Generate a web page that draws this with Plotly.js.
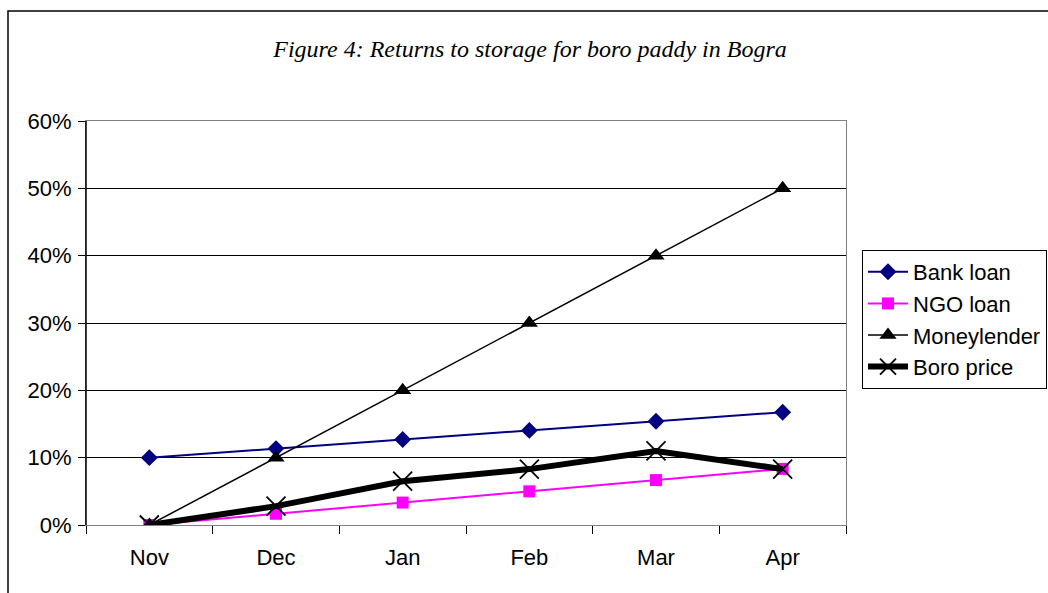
<!DOCTYPE html>
<html>
<head>
<meta charset="utf-8">
<script src="https://cdn.plot.ly/plotly-3.0.1.min.js"></script>
<style>
html,body{margin:0;padding:0;background:#fff;}
#chart{width:1048px;height:593px;}
</style>
</head>
<body>
<div id="chart"></div>
<script>
const months = ["Nov", "Dec", "Jan", "Feb", "Mar", "Apr"];
const bankLoan = [0.10, 0.1135, 0.127, 0.1405, 0.154, 0.1675];
const ngoLoan = [0.0, 0.0167, 0.0333, 0.05, 0.0667, 0.0833];
const moneylender = [0.0, 0.10, 0.20, 0.30, 0.40, 0.50];
const boroPrice = [0.0, 0.028, 0.065, 0.083, 0.110, 0.083];
const yTicks = [0, 0.1, 0.2, 0.3, 0.4, 0.5, 0.6];
const yTickText = ["0%", "10%", "20%", "30%", "40%", "50%", "60%"];

const font = {family: "Liberation Sans, Arial, sans-serif", size: 22, color: "#000"};

const traces = [
  {x: months, y: bankLoan, name: "Bank loan", type: "scatter", mode: "lines+markers",
   line: {color: "#000080", width: 2}, marker: {symbol: "diamond", size: 13, color: "#000080"}},
  {x: months, y: ngoLoan, name: "NGO loan", type: "scatter", mode: "lines+markers",
   line: {color: "#FF00FF", width: 2}, marker: {symbol: "square", size: 12, color: "#FF00FF"}},
  {x: months, y: moneylender, name: "Moneylender", type: "scatter", mode: "lines+markers",
   line: {color: "#000000", width: 1.5}, marker: {symbol: "triangle-up", size: 15, color: "#000000"}},
  {x: months, y: boroPrice, name: "Boro price", type: "scatter", mode: "lines+markers",
   line: {color: "#000000", width: 6}, marker: {symbol: "x-thin-open", size: 19, color: "#000000", line: {width: 1.8, color: "#000000"}}}
];

const W = 760, H = 404, L = 86, T = 121;
const layout = {
  width: 1048, height: 593,
  margin: {l: L, r: 1048 - L - W, t: T, b: 593 - T - H, pad: 0, autoexpand: false},
  paper_bgcolor: "#fff", plot_bgcolor: "#fff",
  showlegend: true,
  title: {text: "<i>Figure 4: Returns to storage for boro paddy in Bogra</i>",
          font: {family: "Liberation Serif, Times New Roman, serif", size: 24, color: "#000"},
          x: (530 - L) / W, xanchor: "center", xref: "paper", y: 0.918, yanchor: "middle", yref: "container"},
  xaxis: {type: "category", categoryorder: "array", categoryarray: months,
          range: [-0.5, 5.5], showgrid: false, zeroline: false,
          showline: true, linecolor: "#808080", linewidth: 1, mirror: true,
          ticks: "outside", ticklen: 8, tickcolor: "#000", tickwidth: 1, tickson: "boundaries",
          ticklabelstandoff: 13, automargin: false,
          tickfont: font, fixedrange: true},
  yaxis: {range: [0, 0.6], tickvals: yTicks, ticktext: yTickText,
          showgrid: true, gridcolor: "#000", gridwidth: 1, zeroline: false,
          showline: true, linecolor: "#808080", linewidth: 1, mirror: true,
          ticks: "outside", ticklen: 7, tickcolor: "#000", tickwidth: 1,
          ticklabelstandoff: 2, automargin: false,
          tickfont: font, fixedrange: true},
  legend: {x: (862 - L) / W, xanchor: "left", y: 1 - (250 - T) / H, yanchor: "top",
           bgcolor: "#fff", bordercolor: "#000", borderwidth: 1, font: font,
           itemwidth: 40, tracegroupgap: 0},
  shapes: [
    {type: "line", xref: "paper", yref: "paper", x0: 0, x1: 0, y0: 0, y1: 1,
     line: {color: "#000", width: 1.5}},
    {type: "rect", xref: "paper", yref: "paper",
     x0: (8 - L) / W, x1: (1060 - L) / W, y0: -(610 - T - H) / H, y1: 1 + (T - 11) / H,
     line: {color: "#000", width: 1.5}, fillcolor: "rgba(0,0,0,0)", layer: "below"}
  ]
};

Plotly.newPlot("chart", traces, layout, {displayModeBar: false, staticPlot: true});
</script>
</body>
</html>
